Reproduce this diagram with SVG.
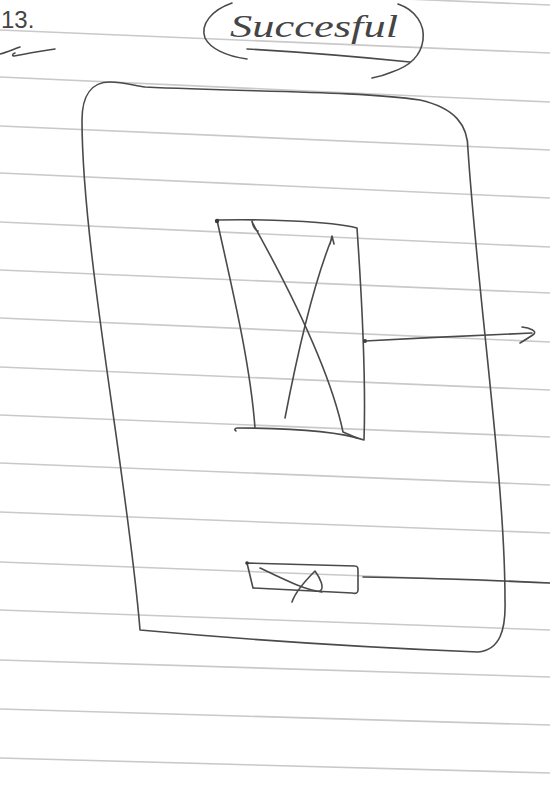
<svg xmlns="http://www.w3.org/2000/svg" width="550" height="790" viewBox="0 0 550 790">
<style>
.rule{stroke:#c9c9c9;stroke-width:1.6;fill:none}
.ink{stroke:#4a4a4a;stroke-width:1.6;fill:none;stroke-linecap:round;stroke-linejoin:round}
.hand{font-family:"Liberation Serif","DejaVu Serif",serif;font-style:italic;fill:#454545}
.num{font-family:"Liberation Sans","DejaVu Sans",sans-serif;font-style:normal;fill:#454545}
</style>
<rect width="550" height="790" fill="#ffffff"/>
<g id="paper-lines">
<line class="rule" x1="0" y1="-18" x2="550" y2="5"/>
<line class="rule" x1="0" y1="30" x2="550" y2="53"/>
<line class="rule" x1="0" y1="77" x2="550" y2="102"/>
<line class="rule" x1="0" y1="126" x2="550" y2="150"/>
<line class="rule" x1="0" y1="173" x2="550" y2="198"/>
<line class="rule" x1="0" y1="222" x2="550" y2="247"/>
<line class="rule" x1="0" y1="270" x2="550" y2="293"/>
<line class="rule" x1="0" y1="318" x2="550" y2="342"/>
<line class="rule" x1="0" y1="367" x2="550" y2="390"/>
<line class="rule" x1="0" y1="415" x2="550" y2="437"/>
<line class="rule" x1="0" y1="463" x2="550" y2="485"/>
<line class="rule" x1="0" y1="512" x2="550" y2="533"/>
<line class="rule" x1="0" y1="562" x2="550" y2="583"/>
<line class="rule" x1="0" y1="610" x2="550" y2="630"/>
<line class="rule" x1="0" y1="660" x2="550" y2="677"/>
<line class="rule" x1="0" y1="709" x2="550" y2="725"/>
<line class="rule" x1="0" y1="758" x2="550" y2="773"/>
</g>
<g id="number">
<text class="num" x="1" y="28" font-size="24">13.</text>
<path class="ink" d="M 0 54 C 7 52, 14 49, 20 47 M 55 49 C 40 51, 25 54, 14 56 C 12 56, 12 54, 15 53"/>
</g>
<g id="title">
<path class="ink" d="M 232 3 C 212 10, 200 24, 205 38 C 210 48, 225 56, 247 59"/>
<path class="ink" d="M 398 4 C 416 10, 425 25, 423 40 C 421 55, 410 66, 392 72 C 385 75, 378 77, 372 78"/>
<text class="hand" x="230" y="37" font-size="31" textLength="168" lengthAdjust="spacingAndGlyphs">Succesful</text>
<path class="ink" d="M 247 49 C 300 52, 360 57, 410 62"/>
</g>
<g id="outer-box">
<path class="ink" d="M 140 630 C 128 480, 82 250, 82 120 C 82 95, 92 82, 110 82 C 125 82, 135 86, 145 87 C 250 92, 360 91, 420 100 C 455 108, 468 125, 468 150 C 478 300, 505 480, 505 600 C 506 630, 500 650, 478 652 C 380 648, 250 640, 140 630 Z"/>
</g>
<g id="inner-box">
<path class="ink" d="M 217 220 C 260 219, 330 221, 357 228 C 362 300, 366 380, 364 440 C 340 432, 300 428, 237 428 C 235 428, 234 430, 236 431"/>
<path class="ink" d="M 217 220 C 230 280, 250 360, 255 428"/>
<path class="ink" d="M 252 221 C 253 226, 255 230, 258 231 M 252 222 C 290 290, 330 370, 343 432 L 357 438"/>
<path class="ink" d="M 285 418 C 300 340, 315 280, 332 238 M 330 244 L 332 236 L 334 244"/>
<circle cx="217" cy="221" r="2.2" fill="#3a3a3a"/>
<circle cx="365" cy="341" r="2" fill="#3a3a3a"/>
</g>
<g id="small-box">
<path class="ink" d="M 247 563 L 355 566 C 358 566, 358 568, 358 572 L 358 590 C 358 593, 356 594, 352 593 L 253 588 Z"/>
<path class="ink" d="M 260 568 C 285 580, 305 590, 322 592"/>
<path class="ink" d="M 292 602 C 296 590, 308 578, 315 571 C 320 578, 325 588, 320 591"/>
<circle cx="247" cy="563" r="1.8" fill="#3a3a3a"/>
</g>
<g id="connectors">
<path class="ink" d="M 365 341 C 420 338, 480 335, 532 333"/>
<path class="ink" d="M 522 327 C 530 328, 537 331, 534 334 C 530 337, 525 340, 520 343"/>
<path class="ink" d="M 363 577 C 420 578, 490 580, 550 583"/>
</g>
</svg>
